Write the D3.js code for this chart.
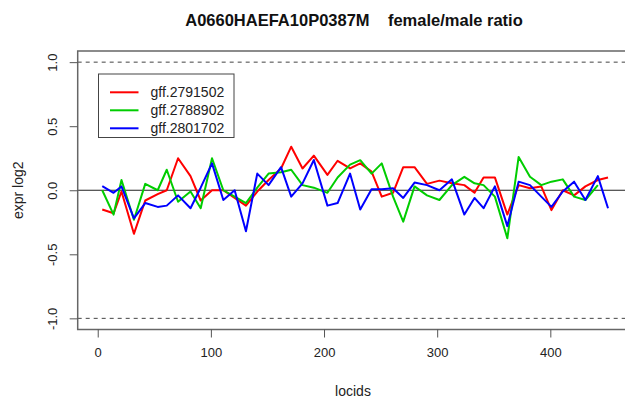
<!DOCTYPE html>
<html>
<head>
<meta charset="utf-8">
<script src="https://cdn.jsdelivr.net/npm/d3@7"></script>
<style>
  body { margin: 0; background: #fff; }
  text { font-family: "Liberation Sans", Arial, sans-serif; }
</style>
</head>
<body>
<div id="chart"></div>
<script>
// Data
const locids = [4, 14, 21, 32, 42, 53, 61, 71, 82, 91, 101, 111, 121, 131, 141, 151, 162, 171, 181, 191,
  203, 212, 223, 232, 242, 251, 261, 270, 280, 291, 302, 313, 324, 333, 341, 351, 362, 372, 382, 392,
  401, 411, 421, 431, 442, 451];

const red = [-0.15, -0.18, -0.01, -0.34, -0.08, -0.03, 0.0, 0.25, 0.11, -0.08,
  0.0, 0.0, -0.06, -0.12, -0.01, 0.08, 0.17, 0.34, 0.17, 0.27,
  0.12, 0.23, 0.17, 0.21, 0.145, -0.05, -0.02, 0.18, 0.18, 0.05,
  0.075, 0.055, 0.04, -0.02, 0.1, 0.1, -0.19, 0.04, 0.015, 0.03,
  -0.155, 0.0, -0.04, 0.03, 0.08, 0.1];

const green = [0.0, -0.19, 0.08, -0.23, 0.05, 0.0, 0.16, -0.09, -0.01, -0.14,
  0.25, 0.0, -0.05, -0.1, 0.02, 0.13, 0.14, 0.16, 0.04, 0.02,
  -0.02, 0.1, 0.2, 0.235, 0.13, 0.21, -0.05, -0.245, 0.03, -0.04,
  -0.076, 0.04, 0.105, 0.054, 0.04, -0.05, -0.375, 0.26, 0.105, 0.04,
  0.067, 0.085, -0.05, -0.076, 0.04, null];

const blue = [0.033, -0.02, 0.03, -0.22, -0.1, -0.13, -0.12, -0.04, -0.14, 0.02,
  0.21, -0.076, 0.0, -0.32, 0.13, 0.04, 0.18, -0.05, 0.054, 0.236,
  -0.12, -0.1, 0.13, -0.15, 0.007, 0.007, 0.015, -0.06, 0.06, 0.04,
  0.0, 0.085, -0.19, -0.06, -0.14, 0.03, -0.28, 0.067, 0.04, -0.05,
  -0.13, -0.01, 0.067, -0.076, 0.11, -0.14];

const seriesNames = ['gff.2791502', 'gff.2788902', 'gff.2801702'];
const seriesColors = ['#ff0000', '#00cd00', '#0000ff'];
const xTicks = [0, 100, 200, 300, 400];
const yTicks = [-1, -0.5, 0, 0.5, 1];
const refLines = [-1, 1];

const dimensions = {
  width: 625,
  height: 400,
  left: 77.7,
  right: 628.4,
  top: 51,
  bottom: 329.5
}

const svg = d3.select('#chart')
  .append('svg')
  .attr('width', dimensions.width)
  .attr('height', dimensions.height);

// Scales
const xScale = d3.scaleLinear()
  .domain([-17.7, 469])
  .range([dimensions.left, dimensions.right]);

const yScale = d3.scaleLinear()
  .domain([-1.087, 1.087])
  .range([dimensions.bottom, dimensions.top]);

// Title
svg.append('text')
  .attr('x', 354)
  .attr('y', 26)
  .attr('text-anchor', 'middle')
  .style('font-size', '16.5px')
  .style('font-weight', 'bold')
  .attr('fill', '#111')
  .attr('xml:space', 'preserve')
  .text('A0660HAEFA10P0387M    female/male ratio');

// Reference lines
svg.selectAll('line.ref')
  .data(refLines)
  .join('line')
  .classed('ref', true)
  .attr('x1', dimensions.left)
  .attr('x2', dimensions.width)
  .attr('y1', d => yScale(d))
  .attr('y2', d => yScale(d))
  .attr('stroke', '#444')
  .attr('stroke-width', 1)
  .attr('stroke-dasharray', '4,4');

svg.append('line')
  .attr('x1', dimensions.left)
  .attr('x2', dimensions.width)
  .attr('y1', yScale(0))
  .attr('y2', yScale(0))
  .attr('stroke', '#222')
  .attr('stroke-width', 1.2);

// Lines
const series = [red, green, blue];
const line = d3.line()
  .defined(d => d[1] !== null)
  .x(d => xScale(d[0]))
  .y(d => yScale(d[1]));

svg.append('g')
  .selectAll('path')
  .data(series)
  .join('path')
  .attr('d', vals => line(vals.map((v, i) => [locids[i], v])))
  .attr('fill', 'none')
  .attr('stroke', (d, i) => seriesColors[i])
  .attr('stroke-width', 2)
  .attr('stroke-linejoin', 'round');

// Box
svg.append('rect')
  .attr('x', dimensions.left)
  .attr('y', dimensions.top)
  .attr('width', dimensions.right - dimensions.left)
  .attr('height', dimensions.bottom - dimensions.top)
  .attr('fill', 'none')
  .attr('stroke', '#666')
  .attr('stroke-width', 1.5);

// Axes
const xAxis = d3.axisBottom(xScale)
  .tickValues(xTicks)
  .tickSize(8)
  .tickPadding(10);

const xAxisGroup = svg.append('g')
  .attr('transform', `translate(0, ${dimensions.bottom})`)
  .call(xAxis);
xAxisGroup.select('.domain').remove();
xAxisGroup.selectAll('line').attr('stroke', '#555');
xAxisGroup.selectAll('text')
  .attr('fill', '#222')
  .style('font-size', '13px')
  .style('font-family', '"Liberation Sans", Arial, sans-serif');

const yAxis = d3.axisLeft(yScale)
  .tickValues(yTicks)
  .tickSize(8)
  .tickFormat(d3.format('.1f'));

const yAxisGroup = svg.append('g')
  .attr('transform', `translate(${dimensions.left}, 0)`)
  .call(yAxis);
yAxisGroup.select('.domain').remove();
yAxisGroup.selectAll('line').attr('stroke', '#555');
yAxisGroup.selectAll('text')
  .attr('fill', '#222')
  .attr('x', null)
  .attr('dy', null)
  .attr('text-anchor', 'middle')
  .attr('transform', 'translate(-21, 0) rotate(-90)')
  .style('font-size', '13px')
  .style('font-family', '"Liberation Sans", Arial, sans-serif')
  .text(d => d3.format('.1f')(d).replace('\u2212', '-'));

// Axis titles
svg.append('text')
  .attr('x', 353)
  .attr('y', 396)
  .attr('text-anchor', 'middle')
  .attr('fill', '#222')
  .style('font-size', '14px')
  .text('locids');

svg.append('text')
  .attr('transform', `translate(23, ${yScale(0)}) rotate(-90)`)
  .attr('text-anchor', 'middle')
  .attr('fill', '#222')
  .style('font-size', '14px')
  .text('expr log2');

// Legend
const legend = svg.append('g')
  .attr('transform', 'translate(98.5, 74)');

legend.append('rect')
  .attr('width', 135.5)
  .attr('height', 63.5)
  .attr('fill', '#fff')
  .attr('stroke', '#444')
  .attr('stroke-width', 1);

const legendRows = legend.selectAll('g')
  .data(seriesNames)
  .join('g')
  .attr('transform', (d, i) => `translate(0, ${18.3 + i * 18})`);

legendRows.append('line')
  .attr('x1', 11.5)
  .attr('x2', 40)
  .attr('stroke', (d, i) => seriesColors[i])
  .attr('stroke-width', 2);

legendRows.append('text')
  .attr('x', 52)
  .attr('dy', '0.35em')
  .attr('fill', '#222')
  .style('font-size', '14px')
  .text(d => d);
</script>
</body>
</html>
